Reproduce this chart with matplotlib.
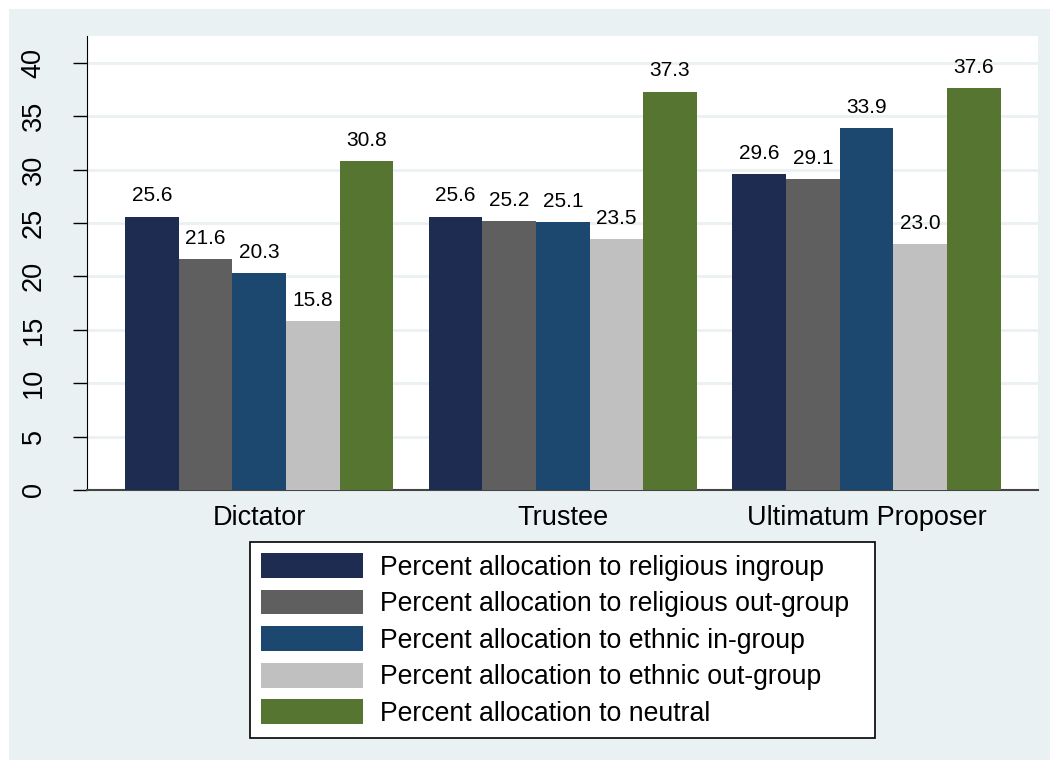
import matplotlib.pyplot as plt
import matplotlib.patches as mpatches
import numpy as np

plt.rcParams['font.family'] = ['Liberation Sans', 'DejaVu Sans']

games = ["Dictator", "Trustee", "Ultimatum Proposer"]
series = [
    "Percent allocation to religious ingroup",
    "Percent allocation to religious out-group",
    "Percent allocation to ethnic in-group",
    "Percent allocation to ethnic out-group",
    "Percent allocation to neutral",
]
religious_in = [25.6, 25.6, 29.6]
religious_out = [21.6, 25.2, 29.1]
ethnic_in = [20.3, 25.1, 33.9]
ethnic_out = [15.8, 23.5, 23.0]
neutral = [30.8, 37.3, 37.6]
colors = ["#1f2c52", "#5f5f5f", "#1c476f", "#c0c0c0", "#557530"]

values = [religious_in, religious_out, ethnic_in, ethnic_out, neutral]
bg = "#eaf1f3"

fig = plt.figure(figsize=(10.59, 7.69), dpi=100)
fig.patch.set_facecolor("white")
fig.patches.append(mpatches.Rectangle((9 / 1059, 9 / 769), 1041 / 1059, 751 / 769,
                                      transform=fig.transFigure, facecolor=bg,
                                      edgecolor="none", zorder=-5))

ax = fig.add_axes([87 / 1059, 1 - 490 / 769, 951 / 1059, 454 / 769])
ax.set_zorder(1)
ax.set_facecolor("white")

x = np.arange(len(games))
w = 0.1766
for i, (vals, c, lab) in enumerate(zip(values, colors, series)):
    pos = x + (i - 2) * w
    bars = ax.bar(pos, vals, width=w, color=c, label=lab, zorder=3)
    for b, v in zip(bars, vals):
        ax.annotate(f"{v:.1f}", (b.get_x() + b.get_width() / 2, v),
                    xytext=(0, 8), textcoords="offset points",
                    ha="center", va="bottom", fontsize=15, color="black")

ax.set_xlim(-0.567, 2.565)
ax.set_ylim(0, 42.5)
ax.set_yticks(range(0, 41, 5))
ax.set_xticks(x)
ax.set_xticklabels(games, fontsize=19.5)
ax.tick_params(axis="x", length=0, pad=11)
ax.tick_params(axis="y", length=10, width=1, labelsize=19.5, pad=19)
for t in ax.get_yticklabels():
    t.set_rotation(90)
    t.set_va("center")
ax.yaxis.grid(True, color=bg, linewidth=2, zorder=0)
ax.set_axisbelow(True)
for s in ["top", "right"]:
    ax.spines[s].set_visible(False)
ax.spines["left"].set_color("black")
ax.spines["bottom"].set_color("#444444")
ax.spines["bottom"].set_linewidth(1.5)

handles, labels = ax.get_legend_handles_labels()
labels = [l + "  " if "out-group" in l and "religious" in l else l for l in labels]
leg = fig.legend(handles, labels, loc="upper center",
                 bbox_to_anchor=(562.5 / 1059, 1 - 542 / 769),
                 fontsize=19.2, frameon=True, fancybox=False, edgecolor="black",
                 facecolor="white", framealpha=1,
                 handlelength=3.8, handleheight=1.05, labelspacing=0.34,
                 handletextpad=0.65, borderpad=0.42, borderaxespad=0)
leg.get_frame().set_linewidth(1.2)

fig.savefig("out.png", dpi=100, facecolor=fig.get_facecolor())
